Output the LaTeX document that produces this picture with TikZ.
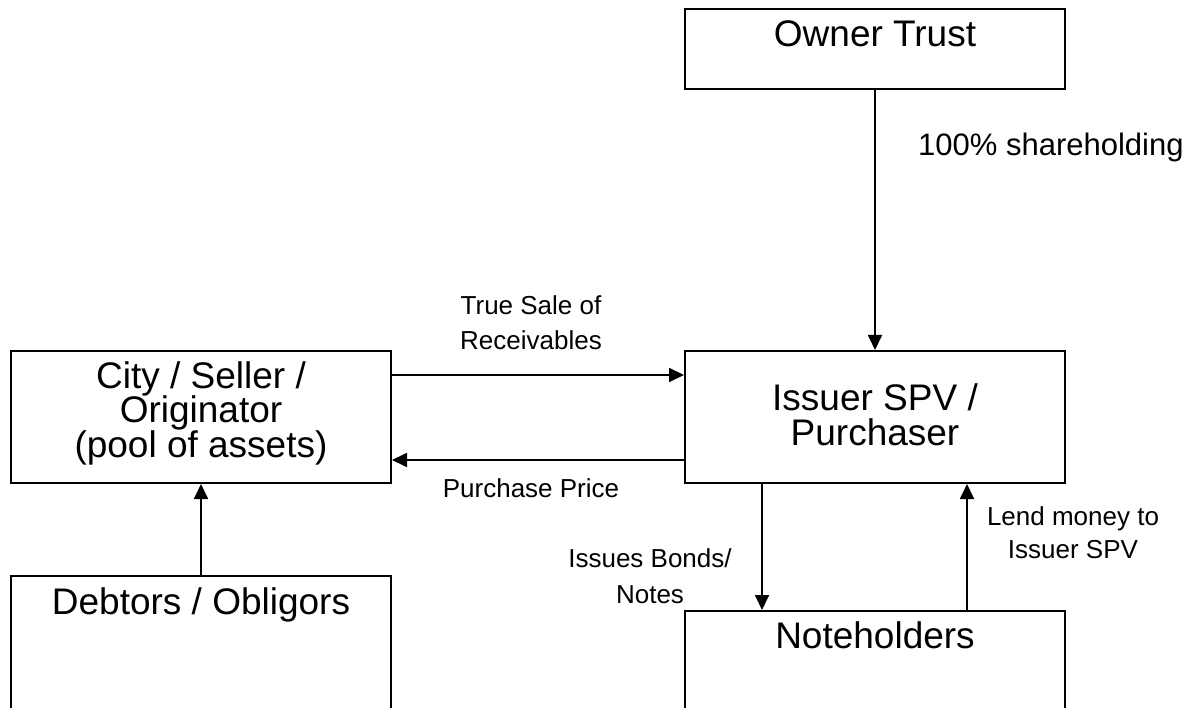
\documentclass[tikz,border=0pt]{standalone}
\usepackage{fontspec}
\setmainfont{Liberation Sans}
\usetikzlibrary{arrows.meta}
\newcommand{\mytext}[4]{\parbox[t]{#1pt}{\fontsize{#2pt}{#3pt}\selectfont\centering #4\par}}
\tikzset{
  box/.style={draw, line width=2pt, minimum width=380pt, inner sep=0pt},
  txt/.style={inner sep=0pt, anchor=base},
  arr/.style={line width=1.8pt, -{Triangle[length=15pt,width=14pt]}},
}
\begin{document}
\begin{tikzpicture}[x=1pt,y=-1pt]
\useasboundingbox (0,0) rectangle (1188,708);
\clip (0,0) rectangle (1188,708);
% boxes
\node[box, minimum height=80pt]  (owner)   at (875,49)  {};
\node[box, minimum height=132pt] (city)    at (201,417) {};
\node[box, minimum height=132pt] (issuer)  at (875,417) {};
\node[box, minimum height=160pt] (debtors) at (201,656) {};
\node[box, minimum height=160pt] (notes)   at (875,691) {};
% box texts
\node[txt] (townr) at (875,47)  {\mytext{380}{37}{35}{Owner Trust}};
\node[txt] (tcity) at (201,388) {\mytext{380}{37}{35}{City / Seller /\\Originator\\(pool of assets)}};
\node[txt] (tiss)  at (875,410) {\mytext{380}{37}{35}{Issuer SPV /\\Purchaser}};
\node[txt] (tdeb)  at (201,614) {\mytext{380}{37}{35}{Debtors / Obligors}};
\node[txt] (tnote) at (875,648) {\mytext{380}{37}{35}{Noteholders}};
% labels
\node[inner sep=0pt, anchor=base west] (lshare) at (918,156) {\fontsize{31pt}{35pt}\selectfont 100\% shareholding};
\node[txt] (lsale)  at (531,315) {\mytext{200}{26}{35}{True Sale of\\Receivables}};
\node[txt] (lprice) at (531,497) {\mytext{200}{26}{35}{Purchase Price}};
\node[txt] (lissue) at (650,567) {\mytext{200}{26}{36}{Issues Bonds/\\Notes}};
\node[txt] (llend)  at (1073,525) {\mytext{200}{26}{33}{Lend money to\\Issuer SPV}};
% connectors
\draw[arr] (owner) -- (issuer);
\draw[arr] ([yshift=42pt]city.east) -- ([yshift=42pt]issuer.west);
\draw[arr] ([yshift=-43pt]issuer.west) -- ([yshift=-43pt]city.east);
\draw[arr] (debtors) -- (city);
\draw[arr] ([xshift=-113pt]issuer.south) -- ([xshift=-113pt]notes.north);
\draw[arr] ([xshift=92pt]notes.north) -- ([xshift=92pt]issuer.south);
\end{tikzpicture}
\end{document}
